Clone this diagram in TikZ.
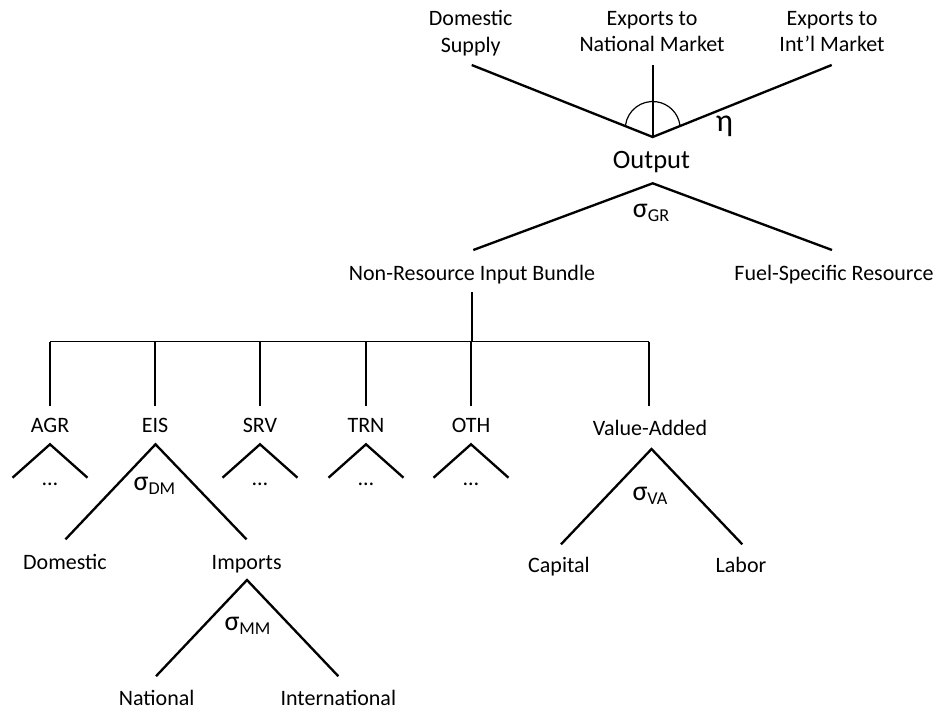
\documentclass[tikz,border=0pt]{standalone}
\usepackage{fontspec}
\setmainfont{Carlito}
% elasticity label: sigma with a lowered subscript
\newcommand\elas[1]{{\fontsize{21}{21}\selectfont σ}\raisebox{-3.2pt}{\fontsize{13.6}{13.6}\selectfont #1}}
\begin{document}
\begin{tikzpicture}[x=0.75pt,y=-0.75pt,
  lbl/.style={inner sep=0pt, anchor=base, font=\fontsize{16.5}{19.9}\selectfont},
  twoline/.style={lbl, align=center},
  tree/.style={line width=1.75pt, line join=miter},
  bus/.style={line width=1.1pt},
  busthick/.style={line width=1.6pt},
  angmark/.style={line width=0.9pt}
]
\useasboundingbox (0,0) rectangle (937,711);

% ---- output transformation (top); base anchor sits on the last line ----
\node[twoline] (ds)  at (470.7,52.5) {Domestic\\Supply};
\node[twoline] (exn) at (652,51.7)   {Exports to\\National Market};
\node[twoline] (exi) at (832,51.7)   {Exports to\\Int’l Market};
\node[lbl, font=\fontsize{19.9}{24}\selectfont] (out) at (651.5,168.5) {Output};
\node[lbl, font=\fontsize{24}{24}\selectfont] (eta) at (724.5,131) {η};

\coordinate (outV) at (652.7,137);
\coordinate (dsE)  at (471.7,65);
\coordinate (exnE) at (652.7,65);
\coordinate (exiE) at (831.7,65);
\coordinate (arcC) at (652.7,129);
\draw[tree] (dsE) -- (outV) -- (exiE);
\draw[tree] (exnE) -- (outV);
\draw[angmark] ([shift={(188:27.5)}]arcC) arc[start angle=188, end angle=352, radius=27.5];

% ---- top nest: resource vs. non-resource ----
\node[lbl] (sgr)  at (651,217) {\elas{GR}};
\node[lbl] (nrib) at (472,280) {Non-Resource Input Bundle};
\node[lbl] (fsr)  at (834,280) {Fuel-Specific Resource};
\coordinate (grV) at (652.7,183.3);
\coordinate (grL) at (473.3,250);
\coordinate (grR) at (832,250);
\draw[tree] (grL) -- (grV) -- (grR);

% ---- Leontief bundle of intermediates and value-added ----
\coordinate (nribB) at (471.7,292);
\coordinate (busL)  at (50,341.7);
\coordinate (busR)  at (649,341.7);
\draw[busthick] (nribB) -- (nribB |- busL);
\draw[bus] (busL) -- (busR);

\foreach \n/\x/\t in {agr/50/AGR, eis/155/EIS, srv/260/SRV, trn/366/TRN, oth/471/OTH}{
  \node[lbl] (\n) at (\x,432.7) {\t};
  \coordinate (\n T) at (\x,341.7);
  \coordinate (\n B) at (\x,405.5);
}
\node[lbl] (va) at (650,435.5) {Value-Added};
\coordinate (vaT) at (649,341.7);
\coordinate (vaB) at (649,405.5);
\draw[bus] (agrT) -- (agrB);
\draw[bus] (eisT) -- (eisB);
\draw[bus] (srvT) -- (srvB);
\draw[bus] (trnT) -- (trnB);
\draw[busthick] (othT) -- (othB);
\draw[bus] (vaT) -- (vaB);

% collapsed sector nests
\foreach \n/\x in {agr/50, srv/260, trn/366, oth/471}{
  \coordinate (\n V) at (\x,444.3);
  \coordinate (\n L) at (\x-37.5,477.7);
  \coordinate (\n R) at (\x+37.5,477.7);
  \draw[tree] (\n L) -- (\n V) -- (\n R);
  \node[lbl] (\n dots) at (\x,485) {…};
}

% Armington nest of EIS
\coordinate (eisV) at (155.5,444.3);
\coordinate (eisL) at (65.5,539.3);
\coordinate (eisR) at (246.5,539.3);
\draw[tree] (eisL) -- (eisV) -- (eisR);
\node[lbl] (sdm) at (154.4,490.7) {\elas{DM}};
\node[lbl] (dom) at (65,569.3) {Domestic};
\node[lbl] (imp) at (246.7,569.3) {Imports};

\coordinate (impV) at (247,580);
\coordinate (impL) at (156,676.2);
\coordinate (impR) at (338.3,676.2);
\draw[tree] (impL) -- (impV) -- (impR);
\node[lbl] (smm) at (247.5,630) {\elas{MM}};
\node[lbl] (nat) at (156.7,705) {National};
\node[lbl] (int) at (338.3,705) {International};

% value-added nest
\coordinate (vaV) at (651.5,449);
\coordinate (vaL) at (561,544.3);
\coordinate (vaR) at (742.3,544.3);
\draw[tree] (vaL) -- (vaV) -- (vaR);
\node[lbl] (sva) at (650,500.7) {\elas{VA}};
\node[lbl] (cap) at (559,572.7) {Capital};
\node[lbl] (lab) at (741,572.7) {Labor};
\end{tikzpicture}
\end{document}
